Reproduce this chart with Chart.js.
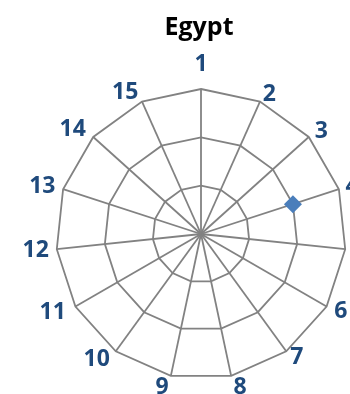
<!DOCTYPE html>
<html>
<head>
<meta charset="utf-8">
<script src="https://cdn.jsdelivr.net/npm/chart.js@4"></script>
<style>
  html, body { margin: 0; padding: 0; background: #fff; overflow: hidden; }
  #wrap { width: 350px; height: 394px; overflow: hidden; position: relative; }
  canvas { position: absolute; left: 0; top: 0; }
</style>
</head>
<body>
<div id="wrap"><canvas id="radar" width="398" height="396"></canvas></div>
<script>
const labels = ["1","2","3","4","5","6","7","8","9","10","11","12","13","14","15"];
const egypt = [null, null, null, 2, null, null, null, null, null, null, null, null, null, null, null];
const scaleMax = 3;

// distance of each axis label from the outer ring (Excel places them a bit differently)
const labelGap = [24, 7, 8, 7, 8, 9, 7, 11, 11, 10, 11, 8, 8, 10, 9];

new Chart(document.getElementById("radar"), {
  type: "radar",
  data: {
    labels,
    datasets: [{
      label: "Egypt",
      data: egypt,
      showLine: false,
      borderWidth: 0,
      pointStyle: "rectRot",
      pointRadius: 9,
      pointBackgroundColor: "#4A7EBB",
      pointBorderColor: "#4A7EBB",
      pointBorderWidth: 0
    }]
  },
  options: {
    responsive: false,
    animation: false,
    plugins: {
      legend: { display: false },
      tooltip: { enabled: false },
      title: {
        display: true,
        text: "Egypt",
        color: "#000",
        font: { family: "'Open Sans'", size: 25, weight: "bold" },
        padding: { top: 13, bottom: 13 }
      }
    },
    scales: {
      r: {
        min: 0,
        max: scaleMax,
        ticks: { display: false, stepSize: 1 },
        grid: { color: "#828282", lineWidth: 1.8 },
        angleLines: { color: "#828282", lineWidth: 1.8 },
        pointLabels: {
          color: "#1F4A7C",
          font: { family: "'Open Sans'", size: 23, weight: "bold", lineHeight: "1px" },
          padding: ctx => labelGap[ctx.index]
        }
      }
    }
  }
});
</script>
</body>
</html>
